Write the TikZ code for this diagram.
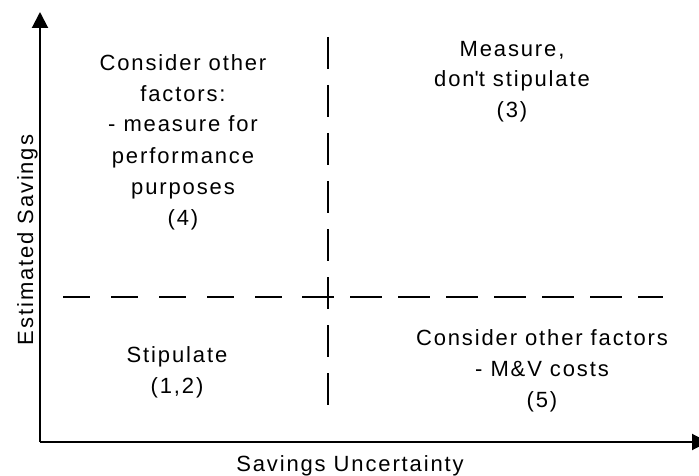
\documentclass[tikz,border=0pt]{standalone}
\usepackage{fontspec}
\setmainfont{Liberation Sans}[LetterSpace=8.5]
\usetikzlibrary{arrows.meta}

\tikzset{
  axis/.style={line width=2pt, -{Triangle[width=16pt,length=16pt]}},
  divider/.style={line width=1.8pt},
  quadtext/.style={font=\fontsize{22}{31}\selectfont, align=center, inner sep=0pt, anchor=base},
  axislabel/.style={font=\fontsize{22}{25}\selectfont, inner sep=0pt, anchor=base}
}

\begin{document}
\begin{tikzpicture}[x=1pt, y=-1pt]
  \path[use as bounding box, fill=white] (0,0) rectangle (699,476);
  \clip (0,0) rectangle (699,476);

  % axes
  \coordinate (origin) at (40,442);
  \coordinate (ytip) at (40,12);
  \coordinate (xtip) at (708,442);
  \draw[axis] (origin) -- (ytip);
  \draw[axis] (origin) -- (xtip);

  % quadrant dividers
  \coordinate (hleft) at (63,297);
  \coordinate (hmid) at (300,297);
  \coordinate (hmid2) at (302,297);
  \coordinate (hright) at (663,297);
  \coordinate (vtop) at (328,37);
  \coordinate (vbot) at (328,407);
  \draw[divider, dash pattern=on 26.7pt off 21.3pt] (hleft) -- (hmid);
  \draw[divider, dash pattern=on 32pt off 16pt] (hmid2) -- (hright);
  \draw[divider, dash pattern=on 32pt off 16pt] (vtop) -- (vbot);

  % quadrant texts (anchored on the baseline of the last line)
  \node[quadtext] (q4) at (183,225) {Consider other\\factors:\\- measure for\\performance\\purposes\\(4)};
  \node[quadtext] (q3) at (512,118) {Measure,\\don\textquotesingle t stipulate\\(3)};
  \node[quadtext] (q12) at (177,393) {Stipulate\\(1,2)};
  \node[quadtext] (q5) at (542,407) {Consider other factors\\- M\&V costs\\(5)};

  % axis labels
  \node[axislabel] (xlabel) at (350,471) {Savings Uncertainty};
  \node[axislabel, rotate=90, anchor=base] (ylabel) at (33,240) {Estimated Savings};
\end{tikzpicture}
\end{document}
